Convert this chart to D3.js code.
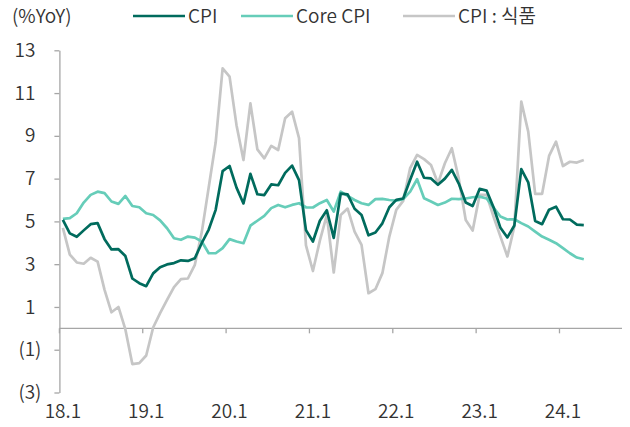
<!DOCTYPE html>
<html>
<head>
<meta charset="utf-8">
<script src="https://d3js.org/d3.v7.min.js"></script>
<style>
  body { margin: 0; background: #fff; }
  text { font-family: "Noto Sans CJK KR", "Noto Sans", sans-serif; font-weight: 350; fill: #333; }
</style>
</head>
<body>
<svg id="chart" width="630" height="427"></svg>
<script>
// monthly, 2018.1 ~ 2024.4
var cpi = [
  5.07, 4.44, 4.28, 4.58, 4.87, 4.92, 4.17, 3.69, 3.70, 3.38, 2.33, 2.11,
  1.97, 2.57, 2.86, 2.99, 3.05, 3.18, 3.15, 3.28, 3.99, 4.62, 5.54, 7.35,
  7.59, 6.58, 5.84, 7.22, 6.27, 6.23, 6.73, 6.69, 7.27, 7.61, 6.93, 4.59,
  4.06, 5.03, 5.52, 4.23, 6.30, 6.26, 5.59, 5.30, 4.35, 4.48, 4.91, 5.66,
  6.01, 6.07, 6.95, 7.79, 7.04, 7.01, 6.71, 7.00, 7.41, 6.77, 5.88, 5.72,
  6.52, 6.44, 5.66, 4.70, 4.25, 4.81, 7.44, 6.83, 5.02, 4.87, 5.55, 5.69,
  5.10, 5.09, 4.85, 4.83
]
var coreCpi = [
  5.12, 5.15, 5.38, 5.88, 6.24, 6.39, 6.32, 5.93, 5.82, 6.19, 5.72, 5.66,
  5.38, 5.30, 5.05, 4.68, 4.21, 4.14, 4.29, 4.24, 4.06, 3.51, 3.51, 3.75,
  4.17, 4.06, 3.98, 4.80, 5.03, 5.26, 5.62, 5.77, 5.66, 5.77, 5.85, 5.66,
  5.65, 5.85, 6.00, 5.46, 6.39, 6.19, 6.00, 5.85, 5.77, 6.04, 6.05, 6.00,
  5.97, 6.04, 6.39, 6.97, 6.08, 5.93, 5.77, 5.88, 6.06, 6.04, 6.07, 6.13,
  6.16, 6.07, 5.65, 5.23, 5.09, 5.10, 4.92, 4.76, 4.52, 4.29, 4.14, 3.98,
  3.75, 3.51, 3.31, 3.23
]
var foodCpi = [
  4.70, 3.45, 3.08, 3.02, 3.30, 3.12, 1.80, 0.75, 1.00, -0.05, -1.67, -1.63,
  -1.27, 0.04, 0.71, 1.33, 1.93, 2.30, 2.33, 2.97, 4.50, 6.60, 8.70, 12.16,
  11.77, 9.50, 7.87, 10.52, 8.37, 7.95, 8.53, 8.34, 9.82, 10.13, 8.89, 3.88,
  2.68, 4.10, 5.30, 2.61, 5.30, 5.60, 4.52, 3.90, 1.64, 1.83, 2.58, 4.29,
  5.54, 5.96, 7.49, 8.11, 7.91, 7.64, 6.78, 7.72, 8.42, 7.00, 5.07, 4.57,
  6.24, 6.24, 5.23, 4.29, 3.36, 4.76, 10.60, 9.20, 6.29, 6.29, 8.06, 8.73,
  7.59, 7.79, 7.75, 7.87
]
var xLabels = ["18.1", "19.1", "20.1", "21.1", "22.1", "23.1", "24.1"]
var yTicks = [-3, -1, 1, 3, 5, 7, 9, 11, 13]
var nMonths = 81

var svg = d3.select("#chart")
var axisColor = "#a6a6a6"
var fontSize = 19

var x = d3.scaleBand().domain(d3.range(nMonths)).range([59.4, 622]).padding(0)
var bw = x.bandwidth()
var y = d3.scaleLinear().domain([-3, 13]).range([392.5, 50.3])

// y axis
var yAxis = svg.append("g")
  .attr("transform", "translate(59.4,0)")
  .call(d3.axisLeft(y).tickValues(yTicks).tickSize(5).tickSizeOuter(0)
    .tickFormat(function (d) { return d < 0 ? "(" + Math.abs(d) + ")" : d }))
yAxis.attr("font-family", null)
yAxis.select(".domain").attr("stroke", axisColor).attr("stroke-width", 1.3)
yAxis.selectAll(".tick line").attr("stroke", axisColor).attr("stroke-width", 1.3)
yAxis.selectAll(".tick text")
  .attr("x", function (d) { return d < 0 ? -18 : -24 })
  .attr("font-size", fontSize)
  .attr("fill", "#333")

// zero line + year ticks
var zero = svg.append("g").attr("transform", "translate(0," + y(0) + ")")
zero.append("line")
  .attr("x1", 59.4).attr("x2", 622)
  .attr("stroke", axisColor).attr("stroke-width", 1.3)
zero.selectAll(".yt")
  .data(xLabels)
  .enter().append("line")
  .attr("x1", function (d, i) { return x(i * 12) })
  .attr("x2", function (d, i) { return x(i * 12) })
  .attr("y1", 0).attr("y2", 5)
  .attr("stroke", axisColor).attr("stroke-width", 1.3)

svg.selectAll(".xl")
  .data(xLabels)
  .enter().append("text")
  .attr("x", function (d, i) { return x(i * 12) + bw / 2 })
  .attr("y", 418)
  .attr("text-anchor", "middle")
  .attr("font-size", fontSize)
  .text(function (d) { return d })

// series
var line = d3.line()
  .x(function (d, i) { return x(i) + bw / 2 })
  .y(function (d) { return y(d) })

var series = [
  { name: "CPI", values: cpi, color: "#006b5d" },
  { name: "Core CPI", values: coreCpi, color: "#66cdb9" },
  { name: "CPI : 식품", values: foodCpi, color: "#c6c6c6" }
]

series.slice().reverse().forEach(function (s) {
  svg.append("path")
    .datum(s.values)
    .attr("fill", "none")
    .attr("stroke", s.color)
    .attr("stroke-width", 2.7)
    .attr("stroke-linejoin", "round")
    .attr("d", line)
})

// legend
svg.append("text").attr("x", 12).attr("y", 23).attr("font-size", fontSize).text("(%YoY)")
var legendX = [133, 241, 403]
series.forEach(function (s, i) {
  svg.append("line")
    .attr("x1", legendX[i]).attr("x2", legendX[i] + 52)
    .attr("y1", 16).attr("y2", 16)
    .attr("stroke", s.color).attr("stroke-width", 2.7)
  svg.append("text")
    .attr("x", legendX[i] + 55).attr("y", 23)
    .attr("font-size", fontSize)
    .text(s.name)
})
</script>
</body>
</html>
